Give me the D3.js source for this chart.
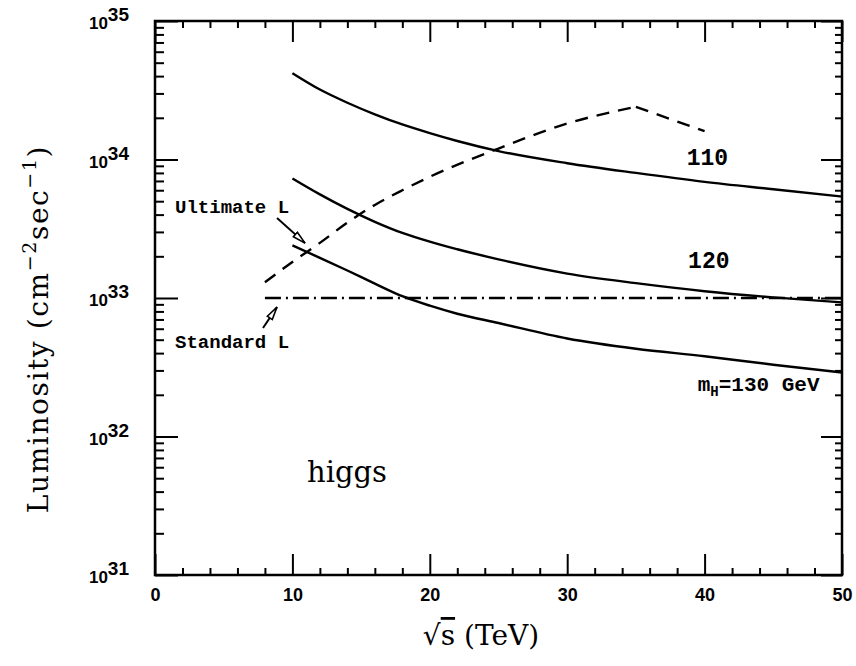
<!DOCTYPE html>
<html>
<head>
<meta charset="utf-8">
<script src="https://cdn.jsdelivr.net/npm/d3@7"></script>
<style>
body { margin: 0; background: #fff; }
</style>
</head>
<body>
<div id="chart"></div>
<script>
// sqrt(s) in TeV where the higgs curves are sampled
var energy = [10, 12, 14, 16, 18, 20, 22, 25, 30, 35, 40, 45, 50];
// luminosity needed for each higgs mass (cm^-2 sec^-1)
var lumi110 = [4.2e34, 3.2e34, 2.57e34, 2.12e34, 1.79e34, 1.55e34, 1.36e34, 1.15e34, 9.4e33, 8.0e33, 6.9e33, 6.1e33, 5.4e33];
var lumi120 = [7.3e33, 5.6e33, 4.4e33, 3.55e33, 2.95e33, 2.55e33, 2.25e33, 1.9e33, 1.5e33, 1.28e33, 1.12e33, 1.01e33, 0.93e33];
var lumi130 = [2.4e33, 1.95e33, 1.58e33, 1.27e33, 1.03e33, 8.8e32, 7.7e32, 6.6e32, 5.1e32, 4.3e32, 3.8e32, 3.3e32, 2.9e32];
// machine luminosity
var ultEnergy = [8, 10, 12, 14, 16, 18, 20, 25, 30, 35];
var ultLumi = [1.3e33, 1.82e33, 2.5e33, 3.5e33, 4.7e33, 6.0e33, 7.5e33, 1.2e34, 1.82e34, 2.4e34];
var ultDropEnergy = [35, 40];
var ultDropLumi = [2.4e34, 1.6e34];
var stdEnergy = [8, 50];
var stdLumi = [1e33, 1e33];
// ticks
var xMajor = [0, 10, 20, 30, 40, 50];
var xMinor = [2, 4, 6, 8, 12, 14, 16, 18, 22, 24, 26, 28, 32, 34, 36, 38, 42, 44, 46, 48];
var yMajor = [1e31, 1e32, 1e33, 1e34, 1e35];
var yMinorMult = [2, 3, 4, 5, 6, 7, 8, 9];

var width = 856, height = 666;
var plotLeft = 155, plotRight = 842, plotTop = 21, plotBottom = 575;

var svg = d3.select("#chart")
	.append("svg")
	.attr("width", width)
	.attr("height", height);

var x = d3.scaleLinear().domain([0, 50]).range([plotLeft, plotRight]);
var y = d3.scaleLog().domain([1e31, 1e35]).range([plotBottom, plotTop]);

var yMinor = [];
yMajor.slice(0, 4).forEach(function (d) {
	yMinorMult.forEach(function (m) { yMinor.push(d * m); });
});

// draws one axis, ticks pointing inwards
function addAxis(axis, tx, ty) {
	var g = svg.append("g")
		.attr("transform", "translate(" + tx + "," + ty + ")")
		.call(axis);
	g.select(".domain").remove();
	g.selectAll(".tick line").attr("stroke", "#000").attr("stroke-width", 2);
	return g;
}

var bigTick = 21, smallTick = 7;
var bottomAxis = addAxis(d3.axisBottom(x).tickValues(xMajor).tickSizeInner(-bigTick).tickSizeOuter(0).tickPadding(13).tickFormat(d3.format("d")), 0, plotBottom);
bottomAxis
	.attr("font-family", "'Liberation Sans', Arial, sans-serif")
	.attr("font-weight", "bold")
	.attr("font-size", 18);
bottomAxis.selectAll("text").attr("fill", "#000");
addAxis(d3.axisBottom(x).tickValues(xMinor).tickSizeInner(-smallTick).tickSizeOuter(0).tickFormat(""), 0, plotBottom);
addAxis(d3.axisTop(x).tickValues(xMajor).tickSizeInner(-bigTick).tickSizeOuter(0).tickFormat(""), 0, plotTop);
addAxis(d3.axisTop(x).tickValues(xMinor).tickSizeInner(-smallTick).tickSizeOuter(0).tickFormat(""), 0, plotTop);
addAxis(d3.axisLeft(y).tickValues(yMajor).tickSizeInner(-23).tickSizeOuter(0).tickFormat(""), plotLeft, 0);
addAxis(d3.axisLeft(y).tickValues(yMinor).tickSizeInner(-9).tickSizeOuter(0).tickFormat(""), plotLeft, 0);
addAxis(d3.axisRight(y).tickValues(yMajor).tickSizeInner(-bigTick).tickSizeOuter(0).tickFormat(""), plotRight, 0);
addAxis(d3.axisRight(y).tickValues(yMinor).tickSizeInner(-smallTick).tickSizeOuter(0).tickFormat(""), plotRight, 0);

// y labels as 10 with exponent
var yLab = svg.append("g")
	.attr("font-family", "'Liberation Sans', Arial, sans-serif")
	.attr("font-weight", "bold")
	.selectAll("text")
	.data(yMajor)
	.enter()
	.append("text")
	.attr("x", plotLeft - 26)
	.attr("y", function (d) { return y(d) + 8; })
	.attr("text-anchor", "end");
yLab.append("tspan").attr("font-size", 17).text("10");
yLab.append("tspan").attr("font-size", 19).attr("dy", -8).text(function (d) { return Math.round(Math.log10(d)); });

// frame
svg.append("rect")
	.attr("x", plotLeft).attr("y", plotTop)
	.attr("width", plotRight - plotLeft).attr("height", plotBottom - plotTop)
	.attr("fill", "none").attr("stroke", "#000").attr("stroke-width", 2.5);

var smooth = d3.line()
	.curve(d3.curveMonotoneX)
	.x(function (d) { return x(d[0]); })
	.y(function (d) { return y(d[1]); });

function addCurve(xs, ys, dash) {
	svg.append("path")
		.datum(d3.zip(xs, ys))
		.attr("d", smooth)
		.attr("fill", "none")
		.attr("stroke", "#000")
		.attr("stroke-width", 2.4)
		.attr("stroke-dasharray", dash);
}
addCurve(energy, lumi110, null);
addCurve(energy, lumi120, null);
addCurve(energy, lumi130, null);
addCurve(ultEnergy, ultLumi, "13,9");
addCurve(ultDropEnergy, ultDropLumi, "13,9");
addCurve(stdEnergy, stdLumi, "16,5,2,5");

// hollow arrow heads
svg.append("defs").append("marker")
	.attr("id", "head")
	.attr("markerUnits", "userSpaceOnUse")
	.attr("markerWidth", 16).attr("markerHeight", 10)
	.attr("refX", 14).attr("refY", 5)
	.attr("orient", "auto")
	.append("path")
	.attr("d", "M1,2 L14,5 L1,8 Z")
	.attr("fill", "#fff")
	.attr("stroke", "#000")
	.attr("stroke-width", 1.6);

var arrows = [
	[[8.88, 3.78e33], [10.92, 2.49e33]],
	[[7.86, 6.07e32], [8.88, 8.6e32]]
];
arrows.forEach(function (a) {
	svg.append("line")
		.attr("x1", x(a[0][0])).attr("y1", y(a[0][1]))
		.attr("x2", x(a[1][0])).attr("y2", y(a[1][1]))
		.attr("stroke", "#000").attr("stroke-width", 2)
		.attr("marker-end", "url(#head)");
});

// curve labels
var mono = "'Liberation Mono', 'DejaVu Sans Mono', monospace";
function addLabel(xv, yv, txt, size, family) {
	return svg.append("text")
		.attr("x", x(xv)).attr("y", y(yv))
		.style("font-family", family)
		.style("font-weight", "bold")
		.style("font-size", size + "px")
		.text(txt);
}
addLabel(38.7, 9.1e33, "110", 23, mono);
addLabel(38.8, 1.65e33, "120", 23, mono);
addLabel(1.46, 4.1e33, "Ultimate L", 19, mono);
addLabel(1.46, 4.35e32, "Standard L", 19, mono);
var mh = addLabel(39.5, 2.14e32, "m", 21, mono);
mh.append("tspan").attr("dy", 5).style("font-size", "14px").text("H");
mh.append("tspan").attr("dy", -5).text("=130 GeV");

var serif = "'DejaVu Serif', serif";
svg.append("text")
	.attr("x", x(11.06)).attr("y", y(4.7e31))
	.style("font-family", serif)
	.style("font-size", "29px")
	.text("higgs");

// axis titles
var xt = svg.append("text")
	.attr("x", 481).attr("y", 645)
	.attr("text-anchor", "middle")
	.style("font-family", serif)
	.style("font-size", "28px");
xt.append("tspan").text("\u221A");
xt.append("tspan").style("text-decoration", "overline").text("s");
xt.append("tspan").text("  (TeV)");

var yt = svg.append("text")
	.attr("transform", "translate(48,329) rotate(-90)")
	.attr("text-anchor", "middle")
	.style("font-family", serif)
	.style("font-size", "28px")
	.style("letter-spacing", "1.6px");
yt.append("tspan").text("Luminosity  (cm");
yt.append("tspan").attr("dy", -12).style("font-size", "19px").text("\u22122");
yt.append("tspan").attr("dy", 12).text("sec");
yt.append("tspan").attr("dy", -12).style("font-size", "19px").text("\u22121");
yt.append("tspan").attr("dy", 12).text(")");
</script>
</body>
</html>
